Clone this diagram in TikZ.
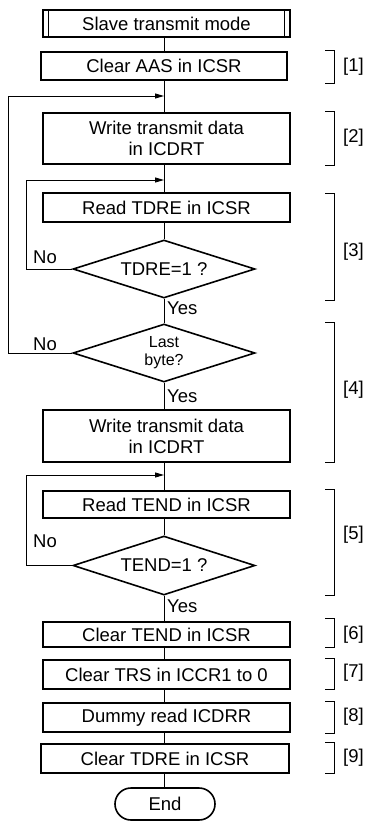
\documentclass[tikz,border=0pt]{standalone}
\usepackage{fontspec}
\setmainfont{Liberation Sans}
\usetikzlibrary{shapes.geometric,shapes.misc,arrows.meta}
\begin{document}
\begin{tikzpicture}[x=1pt,y=-1pt,
 every node/.style={font=\fontsize{18.5}{21}\selectfont},
 proc/.style={draw,line width=1.6pt,fill=white,inner sep=0pt,align=center},
 dec/.style={draw,diamond,aspect=3.14,line width=1.6pt,inner sep=0pt,minimum width=182pt,minimum height=58pt,align=center},
 conn/.style={line width=0.9pt},
 loopar/.style={conn,-{Triangle[length=9pt,width=5pt]}},
 lbl/.style={inner sep=0pt,anchor=base west},
 brk/.style={line width=0.9pt},
 num/.style={inner sep=0pt,anchor=west},
]
\useasboundingbox (0,0) rectangle (369,822);
\coordinate (sp) at (164,0);

\node[proc,minimum width=247pt,minimum height=27pt] (start) at (166.5,23.5) {Slave transmit mode};
\draw[line width=0.9pt] ([xshift=6pt]start.north west) -- ([xshift=6pt]start.south west);
\draw[line width=0.9pt] ([xshift=-6pt]start.north east) -- ([xshift=-6pt]start.south east);
\node[proc,minimum width=246pt,minimum height=28pt] (b1) at (164,66) {Clear AAS in ICSR};
\node[proc,minimum width=247pt,minimum height=51pt] (b2) at (166.5,138.5) {Write transmit data\\in ICDRT};
\node[proc,minimum width=247pt,minimum height=29pt] (b3) at (166.5,207.5) {Read TDRE in ICSR};
\node[dec] (d3) at (164,269) {TDRE=1 ?};
\node[dec,font=\fontsize{16}{18}\selectfont] (d4) at (164,353) {Last\\byte?};
\node[proc,minimum width=247pt,minimum height=52pt] (b4) at (166.5,436) {Write transmit data\\in ICDRT};
\node[proc,minimum width=247pt,minimum height=27pt] (b5) at (166.5,504.5) {Read TEND in ICSR};
\node[dec,minimum height=59pt] (d5) at (164,565.5) {TEND=1 ?};
\node[proc,minimum width=247pt,minimum height=25pt] (b6) at (166.5,634.5) {Clear TEND in ICSR};
\node[proc,minimum width=247pt,minimum height=29pt] (b7) at (166.5,674.5) {Clear TRS in ICCR1 to 0};
\node[proc,minimum width=247pt,minimum height=29pt] (b8) at (166.5,717.5) {Dummy read ICDRR};
\node[proc,minimum width=248pt,minimum height=29pt] (b9) at (165,758.5) {Clear TDRE in ICSR};
\node[draw,rounded rectangle,line width=1.6pt,inner sep=0pt,minimum width=100pt,minimum height=32pt] (end) at (165,804) {End};

% main flow
\draw[conn] (start.south -| sp) -- (b1.north -| sp);
\draw[conn] (b1.south -| sp) -- (b2.north -| sp);
\draw[conn] (b2.south -| sp) -- (b3.north -| sp);
\draw[conn] (b3.south -| sp) -- (d3.north);
\draw[conn] (d3.south) -- (d4.north);
\draw[conn] (d4.south) -- (b4.north -| sp);
\draw[conn] (b4.south -| sp) -- (b5.north -| sp);
\draw[conn] (b5.south -| sp) -- (d5.north);
\draw[conn] (d5.south) -- (b6.north -| sp);
\draw[conn] (b6.south -| sp) -- (b7.north -| sp);
\draw[conn] (b7.south -| sp) -- (b8.north -| sp);
\draw[conn] (b8.south -| sp) -- (b9.north -| sp);
\draw[conn] (b9.south -| sp) -- (end.north -| sp);

% loops
\coordinate (l4) at (8,96);
\coordinate (l3) at (26,180);
\coordinate (l5) at (26,475);
\draw[loopar] (d4.west) -| (l4) -- (l4 -| sp);
\draw[loopar] (d3.west) -| (l3) -- (l3 -| sp);
\draw[loopar] (d5.west) -| (l5) -- (l5 -| sp);

% labels
\node[lbl] (no3) at (33,263) {No};
\node[lbl] (no4) at (33,350) {No};
\node[lbl] (no5) at (33,547) {No};
\node[lbl] (y3) at (167,314) {Yes};
\node[lbl] (y4) at (167,402) {Yes};
\node[lbl] (y5) at (167,612) {Yes};

% brackets
\draw[brk] (325,50) -- (334,50) -- (334,83) -- (325,83);
\draw[brk] (325,111) -- (334,111) -- (334,165) -- (325,165);
\draw[brk] (325,193) -- (334,193) -- (334,300) -- (325,300);
\draw[brk] (325,322) -- (334,322) -- (334,462) -- (325,462);
\draw[brk] (325,489) -- (334,489) -- (334,595) -- (325,595);
\draw[brk] (325,618) -- (334,618) -- (334,647) -- (325,647);
\draw[brk] (325,658) -- (334,658) -- (334,689) -- (325,689);
\draw[brk] (325,701) -- (334,701) -- (334,733) -- (325,733);
\draw[brk] (325,742) -- (334,742) -- (334,773) -- (325,773);
\node[num] (n1) at (343,67) {[1]};
\node[num] (n2) at (343,138) {[2]};
\node[num] (n3) at (343,252) {[3]};
\node[num] (n4) at (343,390) {[4]};
\node[num] (n5) at (343,535) {[5]};
\node[num] (n6) at (343,635) {[6]};
\node[num] (n7) at (343,673) {[7]};
\node[num] (n8) at (343,717) {[8]};
\node[num] (n9) at (343,758) {[9]};
\end{tikzpicture}
\end{document}
